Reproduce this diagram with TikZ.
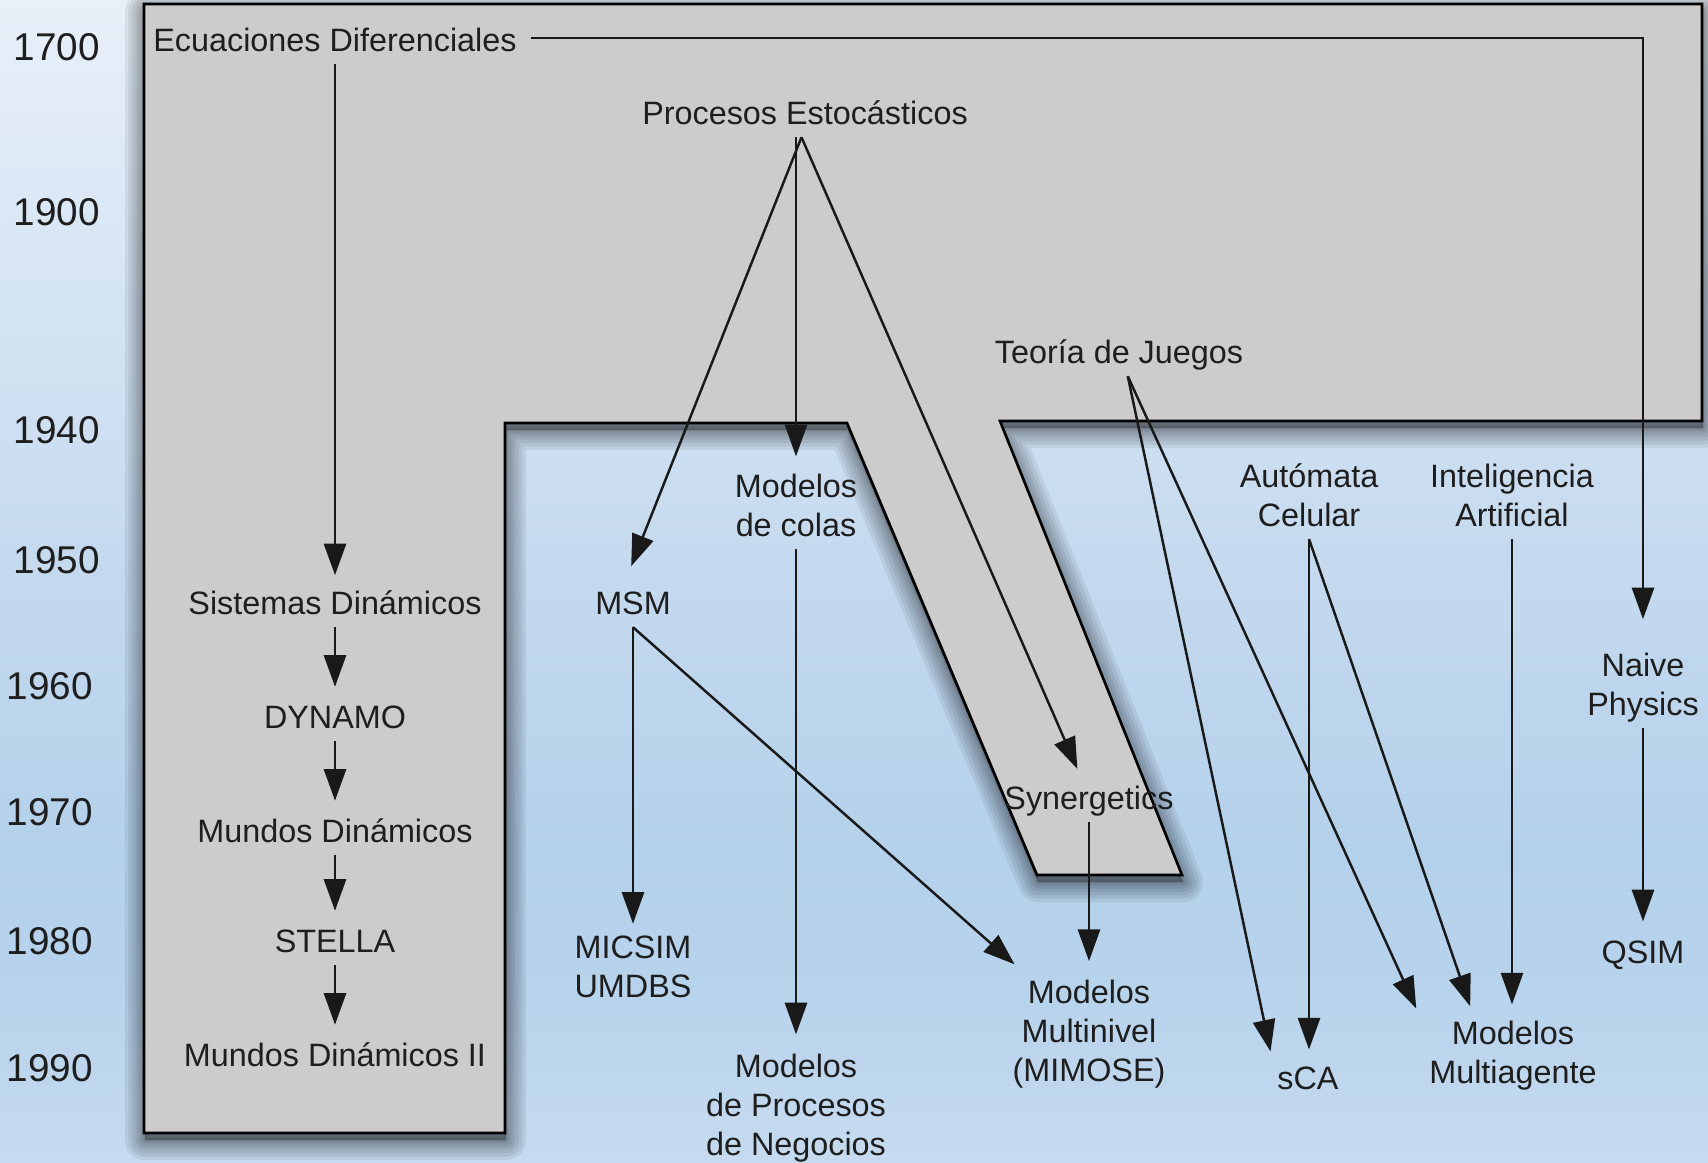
\documentclass[tikz,border=0pt]{standalone}
\usepackage{fontspec}
\setmainfont{Liberation Sans}
\usetikzlibrary{arrows.meta,calc}

\definecolor{skyA}{HTML}{E8F0F9}
\definecolor{skyB}{HTML}{D5E4F4}
\definecolor{skyC}{HTML}{C4D9EE}
\definecolor{skyD}{HTML}{B4D1EB}
\definecolor{skyE}{HTML}{B8D3EC}
\definecolor{skyF}{HTML}{C6DBEF}
\definecolor{band}{HTML}{CCCCCC}
\definecolor{ink}{HTML}{1E1E1E}

% vertical background: stops listed from bottom (25bp) to top (75bp)
\pgfdeclareverticalshading{skyshade}{100bp}{%
  color(0bp)=(skyF); color(25bp)=(skyF); color(31.97bp)=(skyE);
  color(38.4bp)=(skyD); color(50bp)=(skyC); color(62.1bp)=(skyB);
  color(75bp)=(skyA); color(100bp)=(skyA)}

\begin{document}
\begin{tikzpicture}[x=0.01cm, y=-0.01cm,
  lbl/.style={font=\fontsize{9.2}{11.1}\selectfont, text=ink, align=center,
    inner xsep=2pt, inner ysep=0pt,
    execute at begin node=\strut, execute at end node=\strut},
  yr/.style={font=\fontsize{11}{13}\selectfont, text=ink, inner sep=0pt},
  arr/.style={-{Triangle[length=9pt,width=6.3pt]}, line width=0.7pt, draw=black!90},
]
\useasboundingbox (0,0) rectangle (1708,1162);
\shade[shading=skyshade] (0,0) rectangle (1708,1162);

% soft shadow under the grey era band: stacked translucent strokes
\foreach \w in {11.4pt, 9.4pt, 7.4pt, 5.4pt, 3.7pt, 2pt, 0.85pt}{
  \draw[black, opacity=0.065, line width=\w, line join=round, shift={(1,7)}]
    (144,4) -- (1702,4) -- (1702,421) -- (1000,421) -- (1182,875) -- (1037,875)
    -- (847,423) -- (505,423) -- (505,1133) -- (144,1133) -- cycle;
}
\fill[black, opacity=0.3, shift={(1,7)}]
  (144,4) -- (1702,4) -- (1702,421) -- (1000,421) -- (1182,875) -- (1037,875)
  -- (847,423) -- (505,423) -- (505,1133) -- (144,1133) -- cycle;

% grey era band
\filldraw[fill=band, draw=black, line width=0.75pt, line join=miter]
  (144,4) -- (1702,4) -- (1702,421) -- (1000,421) -- (1182,875) -- (1037,875)
  -- (847,423) -- (505,423) -- (505,1133) -- (144,1133) -- cycle;

% time axis
\node[yr] (y1700) at (57,47)   {1700};
\node[yr] (y1900) at (57,212)  {1900};
\node[yr] (y1940) at (57,430)  {1940};
\node[yr] (y1950) at (57,560)  {1950};
\node[yr] (y1960) at (50,686)  {1960};
\node[yr] (y1970) at (50,812)  {1970};
\node[yr] (y1980) at (50,941)  {1980};
\node[yr] (y1990) at (50,1068) {1990};

% topics
\node[lbl] (ecu)    at (335,44)    {Ecuaciones Diferenciales};
\node[lbl] (proc)   at (805,117)   {Procesos Estocásticos};
\node[lbl] (teo)    at (1119,356)  {Teoría de Juegos};
\node[lbl] (sis)    at (335,607)   {Sistemas Dinámicos};
\node[lbl] (dyn)    at (335,721)   {DYNAMO};
\node[lbl] (mun)    at (335,835)   {Mundos Dinámicos};
\node[lbl] (ste)    at (335,945)   {STELLA};
\node[lbl] (mun2)   at (335,1059)  {Mundos Dinámicos II};
\node[lbl] (msm)    at (633,607)   {MSM};
\node[lbl] (colas)  at (796,511)   {Modelos\\de colas};
\node[lbl] (micsim) at (633,973)   {MICSIM\\UMDBS};
\node[lbl] (neg)    at (796,1111)  {Modelos\\de Procesos\\de Negocios};
\node[lbl] (syn)    at (1089,802)  {Synergetics};
\node[lbl] (multi)  at (1089,1037) {Modelos\\Multinivel\\(MIMOSE)};
\node[lbl] (auto)   at (1309,501)  {Autómata\\Celular};
\node[lbl] (ia)     at (1512,501)  {Inteligencia\\Artificial};
\node[lbl] (naive)  at (1643,690)  {Naive\\Physics};
\node[lbl] (qsim)   at (1643,956)  {QSIM};
\node[lbl] (sca)    at (1308,1082) {sCA};
\node[lbl] (mag)    at (1513,1058) {Modelos\\Multiagente};

% lineage
\draw[arr, shorten >=3.3pt] (ecu.south) -- (sis.north);
\draw[arr, shorten <=2pt, shorten >=9.4pt] ([yshift=1.7pt]ecu.east) -| (naive.north);
\draw[arr, shorten >=4pt] (sis.south) -- (dyn.north);
\draw[arr, shorten >=4pt] (dyn.south) -- (mun.north);
\draw[arr, shorten >=4pt] (mun.south) -- (ste.north);
\draw[arr, shorten >=4pt] (ste.south) -- (mun2.north);

\draw[arr, shorten >=6.3pt] ([xshift=-1pt]proc.south) -- ($(msm.north)+(-10,0)$);
\draw[arr, shorten >=4.8pt] (proc.south -| colas.north) -- (colas.north);
\draw[arr, shorten >=4pt]   ([xshift=-1pt]proc.south) -- ($(syn.north)+(-6,0)$);

\draw[arr, shorten >=3pt]   ([xshift=2.5pt]teo.south) -- ($(sca.north west)+(3,0)$);
\draw[arr, shorten >=3.7pt] ([xshift=2.5pt]teo.south) -- (mag.north west);

\draw[arr, shorten >=3.4pt] (msm.south) -- (micsim.north);
\draw[arr, shorten >=6.6pt] (msm.south) -- ($(multi.north)+(-57,0)$);
\draw[arr, shorten >=5.5pt] (colas.south) -- (neg.north);
\draw[arr, shorten >=5.3pt] (syn.south) -- (multi.north);

\draw[arr, shorten >=3.5pt] (auto.south) -- (auto.south |- sca.north);
\draw[arr, shorten >=4.2pt] (auto.south) -- ($(mag.north)+(-38,0)$);
\draw[arr, shorten >=4.5pt] (ia.south) -- (ia.south |- mag.north);
\draw[arr, shorten >=4.1pt] (naive.south) -- (qsim.north);
\end{tikzpicture}
\end{document}
